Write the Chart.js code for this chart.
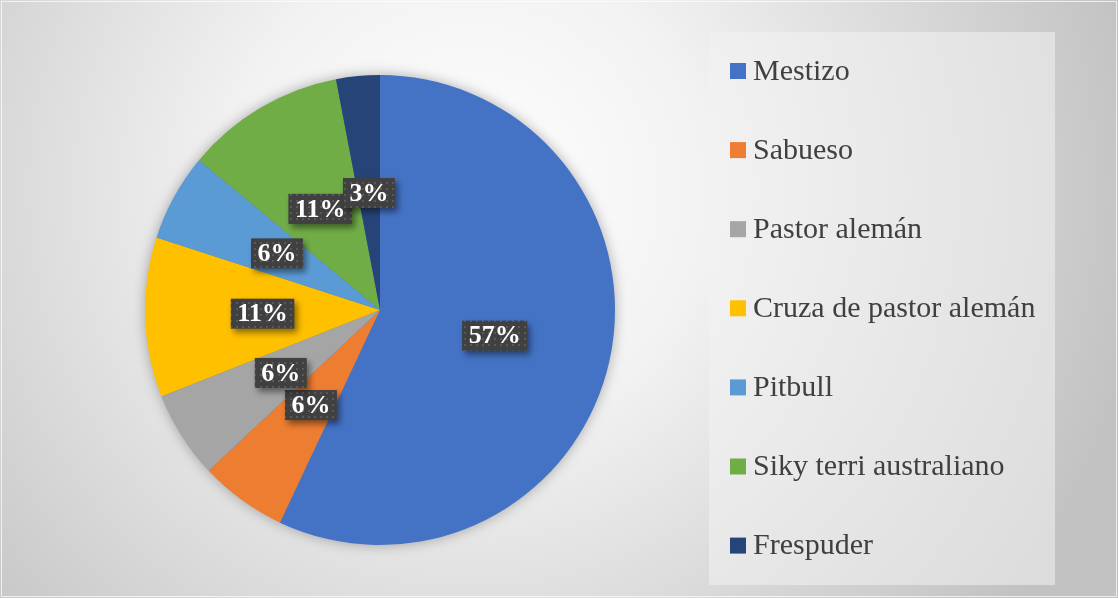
<!DOCTYPE html>
<html>
<head>
<meta charset="utf-8">
<script src="https://cdn.jsdelivr.net/npm/chart.js@4"></script>
<style>
  html, body { margin: 0; padding: 0; background: #d0d0d0; }
  #wrap { width: 1118px; height: 598px; }
</style>
</head>
<body>
<div id="wrap"><canvas id="myChart" width="1118" height="598"></canvas></div>
<script>
let breeds = ['Mestizo', 'Sabueso', 'Pastor alemán', 'Cruza de pastor alemán', 'Pitbull', 'Siky terri australiano', 'Frespuder'];
let percents = [57, 6, 6, 11, 6, 11, 3];
let colors = ['#4472C4', '#ED7D31', '#A5A5A5', '#FFC000', '#5B9BD5', '#70AD47', '#264478'];

// dotted dark fill for the data labels
function dotPattern(ctx) {
    let c = document.createElement('canvas');
    c.width = 6; c.height = 6;
    let p = c.getContext('2d');
    p.fillStyle = '#404040';
    p.fillRect(0, 0, 6, 6);
    p.fillStyle = '#595959';
    p.fillRect(2, 2, 2, 2);
    return ctx.createPattern(c, 'repeat');
}

let background = {
    id: 'background',
    beforeDraw(chart) {
        let ctx = chart.ctx;
        let w = chart.width, h = chart.height;
        let g = ctx.createRadialGradient(470, 190, 0, 470, 190, 680);
        g.addColorStop(0, '#ffffff');
        g.addColorStop(0.35, '#f2f2f2');
        g.addColorStop(1, '#c2c2c2');
        ctx.save();
        ctx.fillStyle = g;
        ctx.fillRect(0, 0, w, h);
        ctx.strokeStyle = 'rgba(255,255,255,0.7)';
        ctx.lineWidth = 1;
        ctx.strokeRect(1.5, 1.5, w - 3, h - 3);
        ctx.restore();
    },
    beforeDatasetsDraw(chart) {
        // soft shadow under the whole pie
        let arc = chart.getDatasetMeta(0).data[0];
        let ctx = chart.ctx;
        ctx.save();
        ctx.shadowColor = 'rgba(0,0,0,0.35)';
        ctx.shadowBlur = 14;
        ctx.fillStyle = '#4472C4';
        ctx.beginPath();
        ctx.arc(arc.x, arc.y, arc.outerRadius - 1, 0, Math.PI * 2);
        ctx.fill();
        ctx.restore();
    }
};

let labels = {
    id: 'labels',
    afterDatasetsDraw(chart) {
        let ctx = chart.ctx;
        let meta = chart.getDatasetMeta(0);
        let fill = dotPattern(ctx);
        ctx.save();
        ctx.font = 'bold 26px "Liberation Serif", "Times New Roman", serif';
        ctx.textAlign = 'center';
        ctx.textBaseline = 'middle';
        meta.data.forEach(function (arc, i) {
            let pos = arc.tooltipPosition();
            let text = percents[i] + '%';
            let bw = ctx.measureText(text).width + 13;
            let bh = 30;
            ctx.save();
            ctx.shadowColor = 'rgba(0,0,0,0.45)';
            ctx.shadowBlur = 6;
            ctx.shadowOffsetX = 3;
            ctx.shadowOffsetY = 4;
            ctx.fillStyle = fill;
            ctx.fillRect(pos.x - bw / 2, pos.y - bh / 2, bw, bh);
            ctx.restore();
            ctx.fillStyle = '#ffffff';
            ctx.fillText(text, pos.x, pos.y + 1);
        });
        ctx.restore();
    }
};

let legendBox = {
    id: 'legendBox',
    afterDraw(chart) {
        let ctx = chart.ctx;
        ctx.save();
        ctx.fillStyle = 'rgba(242,242,242,0.55)';
        ctx.fillRect(709, 32, 346, 553);
        ctx.font = '30px "Liberation Serif", "Times New Roman", serif';
        ctx.textBaseline = 'middle';
        ctx.textAlign = 'left';
        for (let i = 0; i < breeds.length; i++) {
            let y = 71 + i * 79.1;
            ctx.fillStyle = colors[i];
            ctx.fillRect(730, y - 8, 16, 16);
            ctx.fillStyle = '#404040';
            ctx.fillText(breeds[i], 753, y + 1);
        }
        ctx.restore();
    }
};

let ctx = document.getElementById('myChart').getContext('2d');
let chart = new Chart(ctx, {
    type: 'pie',
    data: {
        labels: breeds,
        datasets: [{
            data: percents,
            backgroundColor: colors,
            borderWidth: 0
        }]
    },
    options: {
        responsive: false,
        animation: false,
        layout: {
            padding: { left: 145, right: 503, top: 75, bottom: 53 }
        },
        plugins: {
            legend: { display: false },
            tooltip: { enabled: false }
        }
    },
    plugins: [background, labels, legendBox]
});
</script>
</body>
</html>
